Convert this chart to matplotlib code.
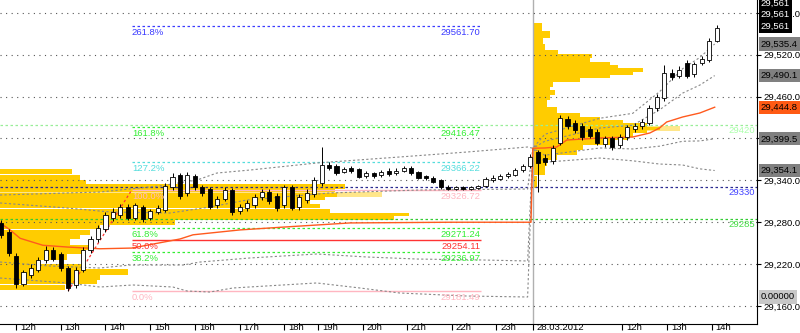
import numpy as np
import matplotlib
matplotlib.use('Agg')
import matplotlib.pyplot as plt
from matplotlib.transforms import ScaledTranslation

plt.rcParams['font.family'] = ['Liberation Sans', 'DejaVu Sans']

# 10-minute candles, x = 5-minute slot counted from 12:00 on 27.03
bar_slot = list(range(-4, 190, 2))
opens = [29279, 29266, 29232, 29192, 29205, 29212, 29226, 29240, 29234, 29214,
         29190, 29212, 29240, 29256, 29270, 29286, 29290, 29302, 29286, 29302,
         29286, 29294, 29298, 29330, 29348, 29322, 29346, 29330, 29328, 29304,
         29314, 29326, 29296, 29300, 29304, 29316, 29324, 29318, 29304, 29330,
         29302, 29312, 29320, 29336, 29362, 29360, 29352, 29357, 29356, 29346,
         29350, 29347, 29354, 29350, 29354, 29358, 29352, 29346, 29344, 29340,
         29331, 29328, 29330, 29328, 29329, 29332, 29340, 29342, 29346, 29348,
         29355, 29360, 29380, 29372, 29368, 29393, 29428, 29422, 29418, 29414,
         29410, 29392, 29400, 29390, 29402, 29414, 29418, 29422, 29444, 29458,
         29494, 29490, 29508, 29492, 29508, 29512, 29540]
highs = [29283, 29270, 29236, 29212, 29220, 29230, 29246, 29245, 29238, 29218,
         29216, 29244, 29260, 29276, 29294, 29300, 29306, 29306, 29308, 29305,
         29299, 29304, 29336, 29350, 29350, 29352, 29349, 29333, 29331, 29318,
         29330, 29329, 29306, 29312, 29320, 29328, 29328, 29322, 29334, 29334,
         29320, 29328, 29345, 29388, 29366, 29363, 29359, 29360, 29358, 29353,
         29352, 29355, 29357, 29357, 29361, 29360, 29354, 29348, 29346, 29342,
         29333, 29332, 29332, 29332, 29334, 29345, 29347, 29349, 29352, 29358,
         29364, 29378, 29384, 29378, 29390, 29433, 29432, 29426, 29422, 29418,
         29413, 29404, 29403, 29406, 29420, 29422, 29428, 29448, 29464, 29505,
         29500, 29504, 29512, 29510, 29518, 29544, 29562]
lows = [29258, 29232, 29186, 29188, 29200, 29208, 29222, 29224, 29210, 29182,
        29186, 29208, 29236, 29252, 29266, 29282, 29286, 29283, 29283, 29280,
        29283, 29292, 29294, 29326, 29314, 29318, 29326, 29318, 29299, 29300,
        29310, 29290, 29292, 29296, 29300, 29312, 29306, 29296, 29300, 29297,
        29298, 29308, 29316, 29332, 29355, 29348, 29350, 29350, 29343, 29344,
        29343, 29345, 29346, 29348, 29352, 29348, 29342, 29340, 29336, 29327,
        29326, 29326, 29326, 29326, 29327, 29330, 29338, 29340, 29344, 29346,
        29352, 29358, 29324, 29362, 29364, 29390, 29414, 29408, 29398, 29400,
        29390, 29388, 29384, 29386, 29398, 29410, 29414, 29420, 29440, 29454,
        29484, 29486, 29486, 29488, 29505, 29510, 29538]
closes = [29262, 29236, 29192, 29208, 29215, 29226, 29240, 29228, 29214, 29186,
          29212, 29240, 29256, 29272, 29290, 29294, 29302, 29286, 29305, 29284,
          29296, 29300, 29332, 29345, 29318, 29348, 29330, 29322, 29302, 29314,
          29326, 29294, 29302, 29308, 29316, 29324, 29310, 29300, 29330, 29300,
          29316, 29322, 29340, 29362, 29358, 29350, 29356, 29353, 29345, 29350,
          29346, 29352, 29349, 29354, 29358, 29350, 29344, 29343, 29338, 29330,
          29328, 29330, 29328, 29330, 29332, 29342, 29344, 29346, 29349, 29355,
          29360, 29374, 29365, 29366, 29386, 29430, 29418, 29412, 29402, 29404,
          29394, 29400, 29388, 29402, 29416, 29418, 29424, 29444, 29460, 29494,
          29488, 29498, 29490, 29506, 29514, 29540, 29558]

# session VWAP and deviation bands (slot, price)
vwap_slot = [-4.3, -1.6, 1.1, 7.2, 13.7, 22.5, 31.1, 44, 47.5, 60.1, 71.6, 89.6,
             116.4, 138.2, 138.7, 141.9, 145.1, 147.8, 156.7, 165.5, 170.1, 172.7,
             174.6, 178.9, 183.5, 187.5]
vwap_price = [29279, 29269, 29257, 29247, 29244.5, 29242, 29243, 29256, 29262,
              29269, 29273, 29279, 29280, 29280, 29386, 29386.4, 29387.8, 29397.8,
              29400.7, 29402.1, 29407.9, 29415, 29423.6, 29430.8, 29436.5, 29444.8]

day2_slot = [138.7, 141.9, 156.7, 165.5, 172.7, 178.9, 183.5, 187.5]
u2_slot = [-4.3, 22.5, 38.6, 48.6, 53.9, 62.8, 80.7, 103, 121, 137.3] + day2_slot
u2_price = [29319, 29323.3, 29332, 29340.5, 29350.5, 29354.8, 29364.9, 29373.5,
            29380.6, 29387.8, 29386, 29406, 29429, 29436, 29467, 29500, 29516, 29535.4]
u1_slot = [-4.3, 13.7, 25.2, 41.3, 52, 62, 84.2, 108.4, 137.3] + day2_slot
u1_price = [29307.6, 29300.4, 29294.7, 29293.2, 29301.8, 29311.9, 29321.9, 29326.2,
            29327.6, 29386, 29396, 29415, 29419, 29441, 29465, 29476.5, 29490.1]
l1_slot = [-4.3, 9.1, 22.5, 30.6, 44.8, 49.4, 62.8, 80.7, 94.2, 107.6, 125.3, 137.3] + day2_slot
l1_price = [29223, 29217.3, 29214.4, 29218.7, 29218.7, 29223, 29228.8, 29234.5,
            29230.2, 29227.3, 29225.9, 29224.5, 29386, 29376, 29386.4, 29385, 29389,
            29396, 29396.5, 29399.5]
l2_slot = [-4.3, 13.7, 22.5, 31.4, 42.1, 45.9, 52, 58.2, 71.6, 80.7, 92.3, 103, 121,
           137.3] + day2_slot
l2_price = [29200.1, 29193, 29187.2, 29190.1, 29187.2, 29181.5, 29180, 29185.8,
            29190.1, 29193, 29185.8, 29178.6, 29174.3, 29172.9, 29386, 29366, 29372,
            29368, 29363.4, 29362, 29356.5, 29354.1]

# volume profiles
prof1_price = [29352.0, 29344.8, 29337.7, 29331.2, 29325.5, 29319.7, 29314.0, 29308.3,
               29302.6, 29296.8, 29291.1, 29285.4, 29279.6, 29273.2, 29266.0, 29258.9,
               29251.7, 29244.5, 29237.4, 29230.2, 29223.0, 29215.9, 29208.7, 29201.5,
               29194.4, 29187.2]
prof1_vol = [72, 80, 86, 345, 335, 337, 325, 310, 320, 330, 410, 395, 175, 100, 90,
             80, 70, 90, 85, 67, 40, 83, 128, 100, 97, 65]
prof2_price = [29559.7, 29548.3, 29539.7, 29531.0, 29523.9, 29518.2, 29512.4, 29507.4,
               29503.1, 29498.1, 29493.1, 29488.8, 29483.8, 29477.3, 29471.6, 29465.9,
               29458.7, 29450.1, 29440.8, 29433.6, 29428.6, 29424.3, 29419.3, 29414.3,
               29410.0, 29405.0, 29400.0, 29394.2, 29387.1, 29379.9, 29372.8, 29365.6,
               29354.8, 29337.7]
prof2_vol = [9, 17, 10, 12, 25, 59, 57, 77, 85, 110, 100, 77, 47, 20, 17, 22, 17, 14,
             24, 47, 67, 90, 114, 127, 114, 100, 94, 77, 50, 44, 24, 14, 12, 4]
pale_price = [29319.7, 29414.3]
pale_vol = [383, 147]

# fibonacci retracement
fib_pct = [0.0, 38.2, 50.0, 61.8, 100.0, 127.2, 161.8, 261.8]
fib_value = [29181.49, 29236.97, 29254.11, 29271.24, 29326.72, 29366.22, 29416.47, 29561.70]
fib_color = ['#ffb6c1', '#33ee33', '#ff3333', '#33ee33', '#ffb6c1', '#55dddd', '#33ee33', '#3a3aff']
fib_ls = ['-', ':', '-', ':', '-', ':', ':', ':']
fib_start, fib_end = 31.1, 124.7
fib_anchor_slot = [14, 31.1]

levels = [29420, 29330, 29285]
level_color = ['#99ee99', '#2a2a90', '#33cc33']
level_text = ['#aaffaa', '#4444ff', '#44dd44']

last_price = 29561
zero_tag = 29172.9

tick_slot = [0, 12, 24, 36, 48, 60, 72, 81, 93.1, 104.9, 116.9, 128.9, 138.7, 162.7, 174.7, 186.7]
tick_text = ['12h', '13h', '14h', '15h', '16h', '17h', '18h', '19h', '20h', '21h', '22h',
             '23h', '28.03.2012', '12h', '13h', '14h']
day_start = 138.7

fig = plt.figure(figsize=(8, 3.33), dpi=100)
ax = fig.add_axes([0, 0.027, 0.946, 0.973])
x0, x1 = -4.3, 198.8
ax.set_xlim(x0, x1)
ax.set_ylim(29134.2, 29598.4)

vol_scale = 0.268
yellow = '#ffcc00'
ax.barh(pale_price, np.array(pale_vol) * vol_scale, left=[x0, day_start], height=6,
        color='#ffe68a', lw=0, zorder=0.9)
ax.barh(prof1_price, np.array(prof1_vol) * vol_scale, left=x0,
        height=np.abs(np.gradient(prof1_price)), color=yellow, lw=0, zorder=1)
ax.barh(prof2_price, np.array(prof2_vol) * vol_scale, left=day_start,
        height=np.abs(np.gradient(prof2_price)), color=yellow, lw=0, zorder=1)

ax.axvline(day_start, color='#b0b0b0', lw=1, zorder=1.2)

ax.set_yticks(np.arange(29160, 29581, 60))
ax.set_yticklabels([f'{v:,.1f}' for v in np.arange(29160, 29581, 60)])
ax.set_axisbelow('line')
ax.grid(axis='y', color='#555555', lw=0.8, ls=(0, (1, 4)))

for v, c, tc in zip(levels, level_color, level_text):
    ax.axhline(v, color=c, lw=0.9, ls=(0, (2, 2)), zorder=1.6)
    ax.annotate(str(v), (x1, v), xytext=(-2, -1), textcoords='offset pixels',
                ha='right', va='top', fontsize=6.8, color=tc, zorder=4)

for pct, v, c, ls in zip(fib_pct, fib_value, fib_color, fib_ls):
    ax.hlines(v, fib_start, fib_end, colors=c, lw=1 if ls == '-' else 0.9,
              linestyles=(0, (2, 2)) if ls == ':' else '-', zorder=1.8)
    ax.annotate(f'{pct:.1f}%', (fib_start, v), xytext=(0, -2), textcoords='offset pixels',
                ha='left', va='top', fontsize=6.8, color=c, zorder=4)
    ax.annotate(f'{v:.2f}', (fib_end, v), xytext=(0, -2), textcoords='offset pixels',
                ha='right', va='top', fontsize=6.8, color=c, zorder=4)
ax.plot(fib_anchor_slot, [fib_value[0], fib_value[4]], color='#ff3333', lw=0.9,
        ls=(0, (2, 2)), zorder=1.8)

for xs, ys in [(u2_slot, u2_price), (u1_slot, u1_price), (l1_slot, l1_price), (l2_slot, l2_price)]:
    ax.plot(xs, ys, color='#888888', lw=0.8, ls=(0, (2, 2)), zorder=2)
ax.plot(vwap_slot, vwap_price, color='#ff5a1e', lw=1, zorder=2.5)

o, h, l, c = map(np.array, (opens, highs, lows, closes))
up = c >= o
ax.vlines(bar_slot, l, h, color='black', lw=0.7, zorder=3)
ax.bar(bar_slot, np.maximum(np.abs(c - o), 0.8), bottom=np.minimum(o, c), width=1.1,
       color=np.where(up, 'white', 'black'), edgecolor='black', lw=0.6, zorder=3.1)

for s in ('top', 'left'):
    ax.spines[s].set_visible(False)
ax.spines['bottom'].set_linewidth(0.8)
ax.spines['right'].set_linewidth(0.8)
ax.yaxis.tick_right()
ax.tick_params(axis='y', direction='out', length=3, width=0.8, pad=2, labelsize=6.8)
ax.set_xticks(tick_slot)
ax.set_xticklabels(tick_text)
ax.tick_params(axis='x', direction='out', length=4, width=0.8, pad=-4.5, labelsize=6.8)
shift = ScaledTranslation(4 / 100, 0, fig.dpi_scale_trans)
for lab in ax.get_xticklabels():
    lab.set_ha('left')
    lab.set_transform(lab.get_transform() + shift)


def tag(value, text, fc, tc, dy=0):
    ax.annotate(text, xy=(1, value), xycoords=('axes fraction', 'data'),
                xytext=(4, dy), textcoords='offset pixels', ha='left', va='center',
                fontsize=6.8, color=tc, annotation_clip=False, zorder=6,
                bbox=dict(boxstyle='square,pad=0.22', fc=fc, ec='none'))


for dy in (0, 11.5, 23):
    tag(last_price, f'{last_price:,}', 'black', 'white', dy)
tag(u2_price[-1], f'{u2_price[-1]:,.1f}', '#808080', 'black')
tag(u1_price[-1], f'{u1_price[-1]:,.1f}', '#808080', 'black')
tag(vwap_price[-1], f'{vwap_price[-1]:,.1f}', '#ff5a14', 'black')
tag(l1_price[-1], f'{l1_price[-1]:,.1f}', '#808080', 'black')
tag(l2_price[-1], f'{l2_price[-1]:,.1f}', '#808080', 'black')
tag(zero_tag, '0.00000', '#c8c8c8', 'black')

fig.savefig('out.png', dpi=100)
